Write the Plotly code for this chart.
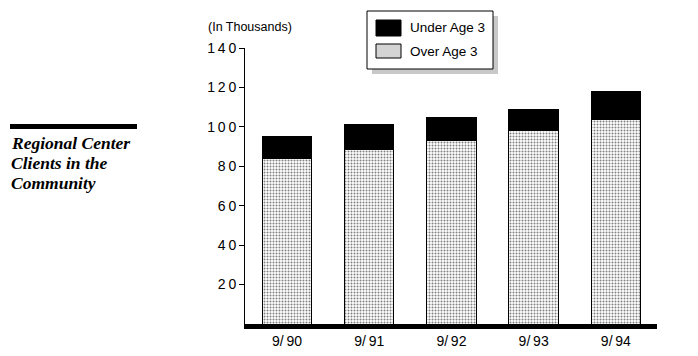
import plotly.graph_objects as go

categories = ["9/90", "9/91", "9/92", "9/93", "9/94"]
x_tick_text = ["9/\u200990", "9/\u200991", "9/\u200992", "9/\u200993", "9/\u200994"]
over_age_3 = [84, 88.5, 93, 98, 103.5]
under_age_3 = [11, 12.5, 12, 11, 14.5]
y_ticks = [20, 40, 60, 80, 100, 120, 140]
y_tick_text = ["2\u20090", "4\u20090", "6\u20090", "8\u20090",
               "1\u20090\u20090", "1\u20092\u20090", "1\u20094\u20090"]
series_names = ["Under Age 3", "Over Age 3"]
title_lines = ["Regional Center", "Clients in the", "Community"]

# page body has an 8px margin, so the figure starts at (8, 8) in the window
OFF = 8
W, H = 698 - 2 * OFF, 356 - 2 * OFF
L, R, T, B = 245 - OFF, 657 - OFF, 48 - OFF, 324 - OFF


def px(x):
    return (x - OFF - L) / (R - L)


def py(y):
    return (B - (y - OFF)) / (B - T)


fig = go.Figure()
fig.add_trace(go.Bar(
    x=categories, y=over_age_3, name=series_names[1],
    marker=dict(color="white", line=dict(color="black", width=1),
                pattern=dict(shape=".", fgcolor="black", bgcolor="white",
                             size=3, solidity=0.35)),
    width=0.6, showlegend=False))
fig.add_trace(go.Bar(
    x=categories, y=under_age_3, name=series_names[0],
    marker=dict(color="black", line=dict(color="black", width=1)),
    width=0.6, showlegend=False))

shapes = []
# title rule
shapes.append(dict(type="rect", xref="paper", yref="paper",
                   x0=px(10), x1=px(137), y0=py(124), y1=py(129),
                   fillcolor="black", line=dict(width=0)))
# legend shadow
shapes.append(dict(type="rect", xref="paper", yref="paper",
                   x0=px(372), x1=px(498), y0=py(16), y1=py(74),
                   fillcolor="#c8c8c8", line=dict(width=0)))
# legend box
shapes.append(dict(type="rect", xref="paper", yref="paper",
                   x0=px(367), x1=px(493), y0=py(11), y1=py(69),
                   fillcolor="white", line=dict(color="black", width=1)))
# swatches
shapes.append(dict(type="rect", xref="paper", yref="paper",
                   x0=px(376), x1=px(401), y0=py(20), y1=py(36),
                   fillcolor="black", line=dict(color="black", width=1)))
shapes.append(dict(type="rect", xref="paper", yref="paper",
                   x0=px(376), x1=px(401), y0=py(44), y1=py(58),
                   fillcolor="#d4d4d4", line=dict(color="black", width=1)))

annotations = []
for line, yc in zip(title_lines, [143, 163, 183]):
    annotations.append(dict(
        text="<b><i>" + line + "</i></b>",
        xref="paper", yref="paper", x=px(9), y=py(yc), xanchor="left", yanchor="middle",
        align="left", showarrow=False,
        font=dict(family="Liberation Serif", size=17.5, color="black")))
annotations += [
    dict(text="(In Thousands)", xref="paper", yref="paper", x=px(206), y=py(27),
         xanchor="left", yanchor="middle", showarrow=False,
         font=dict(family="Liberation Sans", size=12.5, color="black")),
    dict(text=series_names[0], xref="paper", yref="paper", x=px(408), y=py(28),
         xanchor="left", yanchor="middle", showarrow=False,
         font=dict(family="Liberation Sans", size=13.5, color="black")),
    dict(text=series_names[1], xref="paper", yref="paper", x=px(408), y=py(51),
         xanchor="left", yanchor="middle", showarrow=False,
         font=dict(family="Liberation Sans", size=13.5, color="black")),
]

fig.update_layout(
    width=W, height=H, barmode="stack",
    margin=dict(l=L, r=W - R, t=T, b=H - B, pad=0, autoexpand=False),
    paper_bgcolor="white", plot_bgcolor="white",
    shapes=shapes, annotations=annotations,
    font=dict(family="Liberation Sans", size=13, color="black"),
    xaxis=dict(range=[-0.51, 4.5], showline=True, linewidth=5, linecolor="black",
               tickvals=categories, ticktext=x_tick_text,
               showgrid=False, ticks="", zeroline=False, automargin=False,
               tickfont=dict(family="Liberation Sans", size=14)),
    yaxis=dict(range=[0, 140], tickvals=y_ticks, ticktext=y_tick_text,
               showline=True, linewidth=1, automargin=False,
               linecolor="black", ticks="outside", ticklen=5, tickcolor="black",
               showgrid=False, zeroline=False,
               tickfont=dict(family="Liberation Sans", size=14)),
)

fig.write_html("out.html")
